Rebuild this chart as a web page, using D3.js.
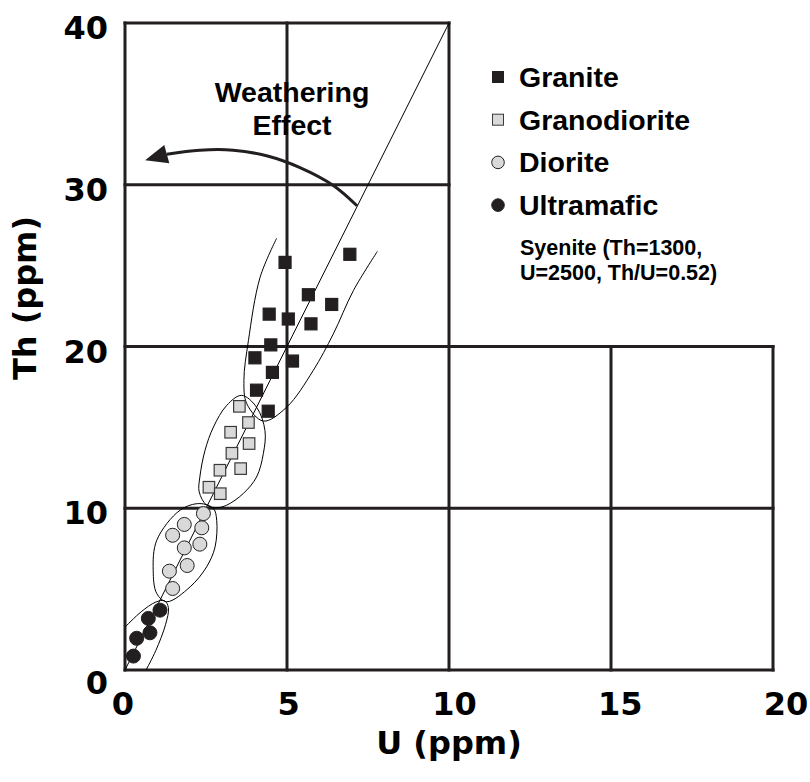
<!DOCTYPE html>
<html>
<head>
<meta charset="utf-8">
<script src="https://cdn.jsdelivr.net/npm/d3@7"></script>
<style>
body { margin: 0; background: #fff; }
.tick { font-family: "DejaVu Sans", sans-serif; font-weight: bold; font-size: 32px; }
.title { font-family: "DejaVu Sans", sans-serif; font-weight: bold; font-size: 32px; }
.lab { font-family: "Liberation Sans", Arial, sans-serif; font-weight: bold; }
</style>
</head>
<body>
<svg width="810" height="782"></svg>
<script>
'use strict';

// U and Th (ppm)
var granite = [
  {u: 4.94, th: 25.2}, {u: 6.94, th: 25.7}, {u: 5.66, th: 23.2}, {u: 6.38, th: 22.6},
  {u: 4.45, th: 22.0}, {u: 5.04, th: 21.7}, {u: 5.74, th: 21.4}, {u: 4.50, th: 20.1},
  {u: 4.01, th: 19.3}, {u: 5.17, th: 19.1}, {u: 4.55, th: 18.4}, {u: 4.06, th: 17.3},
  {u: 4.42, th: 16.0}
];
var granodiorite = [
  {u: 3.53, th: 16.3}, {u: 3.81, th: 15.3}, {u: 3.26, th: 14.7}, {u: 3.83, th: 14.0},
  {u: 3.30, th: 13.4}, {u: 2.93, th: 12.35}, {u: 3.57, th: 12.45}, {u: 2.59, th: 11.3},
  {u: 2.94, th: 10.9}
];
var diorite = [
  {u: 2.42, th: 9.67}, {u: 1.83, th: 9.0}, {u: 2.37, th: 8.79}, {u: 1.47, th: 8.33},
  {u: 2.31, th: 7.78}, {u: 1.83, th: 7.55}, {u: 1.92, th: 6.46}, {u: 1.37, th: 6.11},
  {u: 1.47, th: 5.04}
];
var ultramafic = [
  {u: 1.08, th: 3.70}, {u: 0.72, th: 3.19}, {u: 0.77, th: 2.30}, {u: 0.36, th: 1.96},
  {u: 0.26, th: 0.86}
];

// field outlines drawn by hand in the original
var graniteField = [
  [4.68, 26.69], [4.17, 24.28], [3.81, 20.37], [3.67, 17.90], [3.76, 16.46], [4.27, 15.39],
  [4.99, 16.25], [5.81, 18.52], [6.43, 20.78], [7.05, 23.46], [7.79, 25.88]
];
var granodioriteField = [
  [3.60, 16.98], [3.14, 16.36], [2.73, 15.02], [2.47, 13.58], [2.31, 11.93], [2.29, 11.01],
  [2.52, 10.19], [2.83, 10.04], [3.14, 10.19], [3.65, 10.91], [4.06, 11.93], [4.27, 13.38],
  [4.32, 14.81], [4.06, 16.25]
];
var dioriteField = [
  [2.31, 10.29], [1.70, 9.88], [0.98, 8.02], [0.87, 6.17], [0.98, 4.73], [1.29, 4.22],
  [2.01, 5.14], [2.52, 6.38], [2.78, 7.61], [2.83, 9.26], [2.73, 9.98]
];
var ultramaficField = [
  [0, 2.65], [0.5, 3.6], [0.95, 4.2], [1.22, 4.28], [1.34, 3.85], [1.25, 2.8],
  [0.95, 1.2], [0.65, 0]
];

var thuLine = [[0, 0], [10, 40]];   // Th/U = 4
var arrowPath = [[7.16, 28.7], [6.44, 29.94], [5.4, 31.06], [4.37, 31.79], [3.34, 32.14], [2.31, 32.14], [1.29, 31.89]];
var arrowTip = [0.62, 31.52];

var xTicks = [0, 5, 10, 15, 20];
var yTicks = [0, 10, 20, 30, 40];

var legendNames = ['Granite', 'Granodiorite', 'Diorite', 'Ultramafic'];
var noteLines = ['Syenite (Th=1300,', 'U=2500, Th/U=0.52)'];
var weatherLines = ['Weathering', 'Effect'];

var ink = '#231f20';
var grey = '#d9d9d9';

var svg = d3.select('svg');
var x = d3.scaleLinear().domain([0, 20]).range([125, 773]);
var y = d3.scaleLinear().domain([0, 40]).range([670, 23]);
var xLab = d3.scaleLinear().domain([0, 20]).range([123, 786]);

// L-shaped frame: top half only runs to U=10
function thTop(u) { return u <= 10 ? 40 : 20; }
function uRight(th) { return th <= 20 ? 20 : 10; }

var grid = svg.append('g').attr('stroke', ink).attr('stroke-width', 3).attr('stroke-linecap', 'square');
grid.selectAll('line.v').data(xTicks).enter().append('line')
  .attr('x1', function(d){ return x(d); }).attr('x2', function(d){ return x(d); })
  .attr('y1', y(0)).attr('y2', function(d){ return y(thTop(d)); });
grid.selectAll('line.h').data(yTicks).enter().append('line')
  .attr('y1', function(d){ return y(d); }).attr('y2', function(d){ return y(d); })
  .attr('x1', x(0)).attr('x2', function(d){ return x(uRight(d)); });

// reference line and fields
var line = d3.line().x(function(d){ return x(d[0]); }).y(function(d){ return y(d[1]); });
var thin = svg.append('g').attr('fill', 'none').attr('stroke', '#000').attr('stroke-width', 1);
thin.append('path').attr('d', line(thuLine));
thin.append('path').attr('d', line.curve(d3.curveCatmullRom)(graniteField));
thin.append('path').attr('d', line.curve(d3.curveCatmullRomClosed)(granodioriteField));
thin.append('path').attr('d', line.curve(d3.curveCatmullRomClosed)(dioriteField));
thin.append('path').attr('d', line.curve(d3.curveCatmullRom)(ultramaficField));

// weathering arrow
svg.append('path').attr('d', line.curve(d3.curveCatmullRom)(arrowPath))
  .attr('fill', 'none').attr('stroke', ink).attr('stroke-width', 3);
var end = arrowPath[arrowPath.length - 1];
var bx = x(end[0]), by = y(end[1]), tx = x(arrowTip[0]), ty = y(arrowTip[1]);
var len = Math.hypot(tx - bx, ty - by), nx = -(ty - by) / len * 9.5, ny = (tx - bx) / len * 9.5;
svg.append('path').attr('fill', ink)
  .attr('d', 'M' + tx + ',' + ty + 'L' + (bx + nx) + ',' + (by + ny) + 'L' + (bx - nx) + ',' + (by - ny) + 'Z');

// markers
function squares(data, fill, s) {
  svg.append('g').selectAll('rect').data(data).enter().append('rect')
    .attr('x', function(d){ return x(d.u) - s / 2; })
    .attr('y', function(d){ return y(d.th) - s / 2; })
    .attr('width', s).attr('height', s)
    .attr('fill', fill).attr('stroke', fill === grey ? '#3a3a3a' : ink).attr('stroke-width', 1.2);
}
function circles(data, fill, r) {
  svg.append('g').selectAll('circle').data(data).enter().append('circle')
    .attr('cx', function(d){ return x(d.u); })
    .attr('cy', function(d){ return y(d.th); })
    .attr('r', r).attr('fill', fill).attr('stroke', ink).attr('stroke-width', 1);
}
squares(granite, ink, 12);
squares(granodiorite, grey, 11.5);
circles(diorite, grey, 7);
circles(ultramafic, ink, 7);

// tick labels
svg.append('g').selectAll('text').data(xTicks).enter().append('text')
  .attr('class', 'tick').attr('text-anchor', 'middle')
  .attr('x', function(d){ return xLab(d); }).attr('y', 715)
  .text(function(d){ return d; });
svg.append('g').selectAll('text').data(yTicks).enter().append('text')
  .attr('class', 'tick').attr('text-anchor', 'end')
  .attr('x', 108).attr('y', function(d){ return y(d) + (d === 0 ? 24 : 16); })
  .text(function(d){ return d; });

// axis titles
svg.append('text').attr('class', 'title').attr('text-anchor', 'middle')
  .attr('x', 449).attr('y', 754).text('U (ppm)');
svg.append('text').attr('class', 'title').attr('text-anchor', 'middle')
  .attr('transform', 'translate(36,298) rotate(-90)').text('Th (ppm)');

// weathering label
svg.append('g').selectAll('text').data(weatherLines).enter().append('text')
  .attr('class', 'lab').attr('font-size', 28.5).attr('text-anchor', 'middle')
  .attr('x', 292).attr('y', function(d, i){ return 102 + i * 33; })
  .text(function(d){ return d; });

// legend
var leg = svg.append('g');
legendNames.forEach(function(name, i) {
  var cy = 87 + i * 42.7 - 10;
  if (i < 2) {
    leg.append('rect').attr('x', 498 - 5.5).attr('y', cy - 5.5).attr('width', 11).attr('height', 11)
      .attr('fill', i === 0 ? ink : grey).attr('stroke', i === 0 ? ink : '#3a3a3a').attr('stroke-width', 1);
  } else {
    leg.append('circle').attr('cx', 498).attr('cy', cy).attr('r', 6.3)
      .attr('fill', i === 2 ? grey : ink).attr('stroke', ink).attr('stroke-width', 1);
  }
  leg.append('text').attr('class', 'lab').attr('font-size', 28.5)
    .attr('x', 519).attr('y', 87 + i * 42.7).text(name);
});
leg.selectAll('text.note').data(noteLines).enter().append('text')
  .attr('class', 'lab note').attr('font-size', 21.5)
  .attr('x', 520).attr('y', function(d, i){ return 255 + i * 25; })
  .text(function(d){ return d; });
</script>
</body>
</html>
